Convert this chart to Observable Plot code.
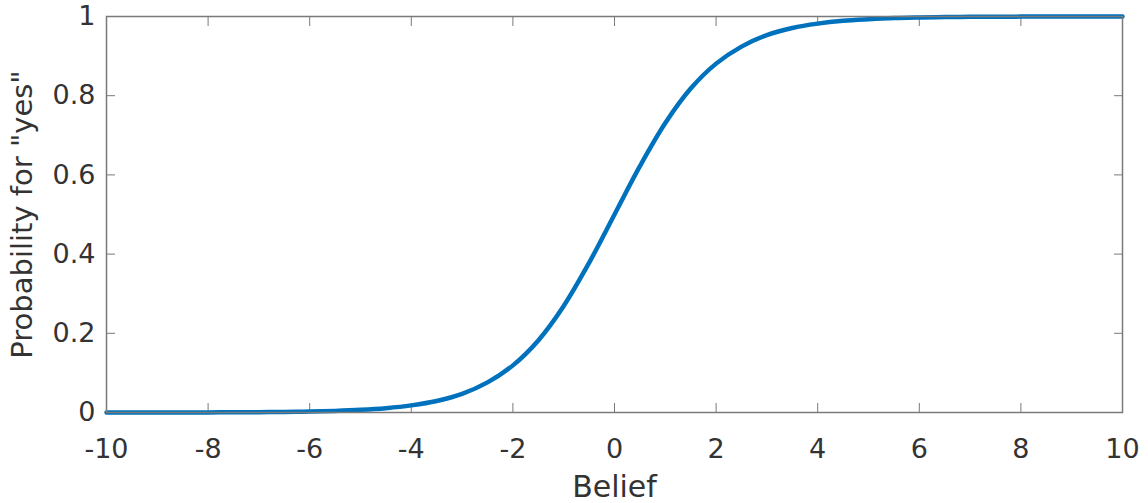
<!DOCTYPE html>
<html><head><meta charset="utf-8">
<script src="https://cdn.jsdelivr.net/npm/d3@7"></script>
<script src="https://cdn.jsdelivr.net/npm/@observablehq/plot@0.6"></script>
<style>body{margin:0;background:#fff}</style>
</head><body><div id="chart"></div>
<script>
const belief = [-10,-9.5,-9,-8.5,-8,-7.5,-7,-6.5,-6,-5.5,-5,-4.5,-4,-3.5,-3,-2.5,-2,-1.5,-1,-0.5,0,0.5,1,1.5,2,2.5,3,3.5,4,4.5,5,5.5,6,6.5,7,7.5,8,8.5,9,9.5,10];
const probability = [0.0000,0.0001,0.0001,0.0002,0.0003,0.0006,0.0009,0.0015,0.0025,0.0041,0.0067,0.011,0.018,0.029,0.047,0.076,0.119,0.182,0.269,0.378,0.500,0.622,0.731,0.818,0.881,0.924,0.953,0.971,0.982,0.989,0.993,0.996,0.9975,0.9985,0.9991,0.9994,0.9997,0.9998,0.9999,0.9999,1.0000];
const xTicks = [-10,-8,-6,-4,-2,0,2,4,6,8,10];
const yTicks = [0,0.2,0.4,0.6,0.8,1];
const xLabel = "Belief";
const yLabel = 'Probability for "yes"';

const data = belief.map((b, i) => ({belief: b, p: probability[i]}));
const fmt = d => String(d);
const blank = () => "";
const axisColor = "#7a7a7a";

const chart = Plot.plot({
  width: 1148, height: 503,
  marginLeft: 106, marginRight: 26, marginTop: 16, marginBottom: 91,
  style: {fontFamily: "DejaVu Sans", fontSize: "27px", color: "#333", background: "#fff"},
  x: {domain: [-10, 10]},
  y: {domain: [0, 1]},
  marks: [
    Plot.axisX(xTicks, {anchor: "bottom", tickSize: -9, tickFormat: blank, label: null, stroke: axisColor}),
    Plot.axisX(xTicks, {anchor: "top", tickSize: -9, tickFormat: blank, label: null, stroke: axisColor}),
    Plot.axisY(yTicks, {anchor: "left", tickSize: -9, tickFormat: blank, label: null, stroke: axisColor}),
    Plot.axisY(yTicks, {anchor: "right", tickSize: -9, tickFormat: blank, label: null, stroke: axisColor}),
    Plot.line(data, {x: "belief", y: "p", stroke: "#0072BD", strokeWidth: 4.5, curve: "catmull-rom"}),
    Plot.frame({stroke: axisColor, strokeWidth: 1.5}),
    Plot.axisX(xTicks, {anchor: "bottom", tickSize: 0, tickPadding: 26, tickFormat: fmt, label: null, fontSize: 27}),
    Plot.axisY(yTicks, {anchor: "left", tickSize: 0, tickPadding: 11, tickFormat: fmt, label: null, fontSize: 27}),
    Plot.axisX(xTicks, {anchor: "bottom", tickSize: 0, tickFormat: blank, label: xLabel, labelAnchor: "center", labelArrow: "none", labelOffset: 84, fontSize: 30}),
    Plot.axisY(yTicks, {anchor: "left", tickSize: 0, tickFormat: blank, label: yLabel, labelAnchor: "center", labelArrow: "none", labelOffset: 95, fontSize: 29})
  ]
});
document.getElementById("chart").appendChild(chart);
</script>
</body></html>
